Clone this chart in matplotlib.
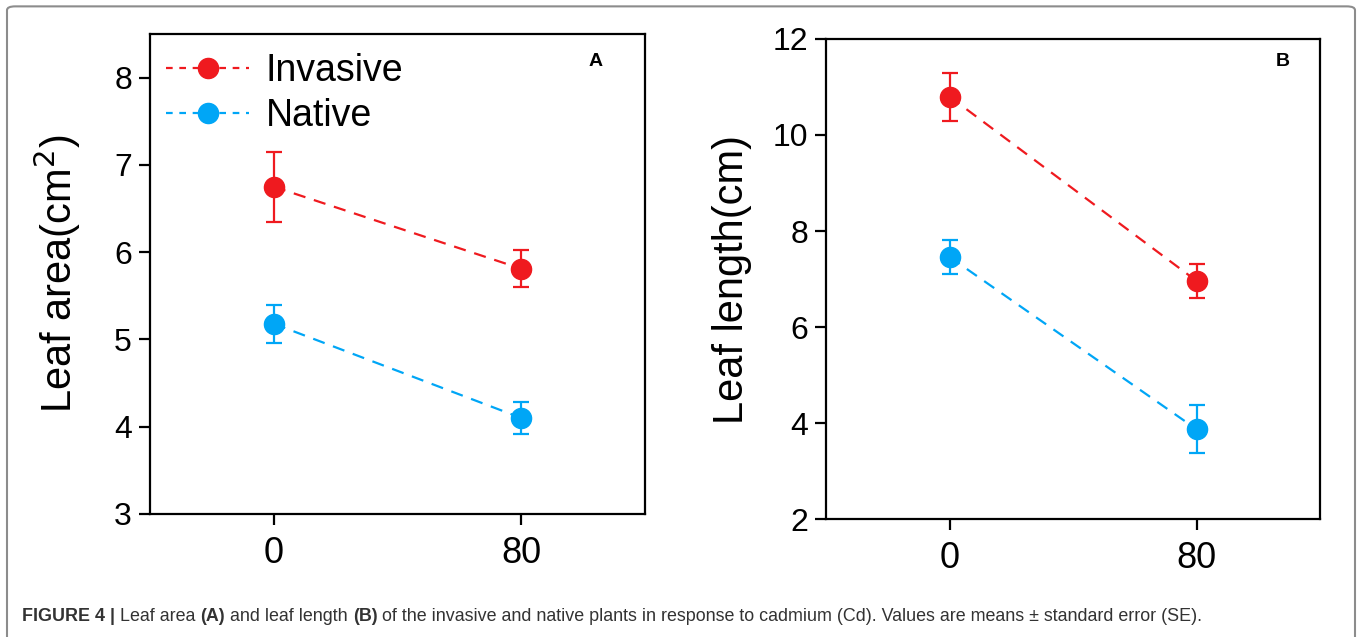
import numpy as np
import matplotlib.pyplot as plt
from matplotlib.patches import FancyBboxPatch
from matplotlib.lines import Line2D

# data
cd = [0, 80]
area_inv = [6.75, 5.81]
area_inv_se = [0.40, 0.21]
area_nat = [5.18, 4.10]
area_nat_se = [0.22, 0.18]

len_inv = [10.80, 6.96]
len_inv_se = [0.50, 0.35]
len_nat = [7.46, 3.87]
len_nat_se = [0.36, 0.50]

red = '#ef1a1f'
blue = '#00a6f6'
narrow = ['Liberation Sans Narrow', 'Liberation Sans', 'DejaVu Sans']

fig = plt.figure(figsize=(13.6, 6.37), dpi=100)
axA = fig.add_axes([0.1103, 0.1931, 0.364, 0.7535])
axB = fig.add_axes([0.6074, 0.1852, 0.3632, 0.7536])


def series(ax, y, e, col):
    ax.errorbar(cd, y, yerr=e, color=col, ls=(0, (5.5, 4)), lw=1.6,
                marker='o', ms=14.5, elinewidth=1.6, capsize=6, capthick=1.6,
                zorder=3)


def style(ax, ylim, yticks, label, lx):
    ax.set_xlim(-40, 120)
    ax.set_ylim(*ylim)
    ax.set_xticks(cd)
    ax.set_yticks(yticks)
    for s in ax.spines.values():
        s.set_linewidth(1.6)
    ax.tick_params(axis='both', direction='out', length=8, width=1.6)
    ax.tick_params(axis='y', pad=5)
    ax.tick_params(axis='x', pad=8)
    for t in ax.get_yticklabels():
        t.set_fontfamily(narrow)
        t.set_fontsize(23)
    for t in ax.get_xticklabels():
        t.set_fontfamily(narrow)
        t.set_fontsize(26)
    ax.set_ylabel(label, fontsize=30, family='Liberation Sans')
    ax.yaxis.set_label_coords(lx, 0.5)


series(axA, area_inv, area_inv_se, red)
series(axA, area_nat, area_nat_se, blue)
style(axA, (3, 8.5), [3, 4, 5, 6, 7, 8], 'Leaf area(cm$^2$)', -0.135)
axA.text((596 - 150) / 495, (514 - 61) / 480, 'A', transform=axA.transAxes,
         fontsize=14, fontweight='bold', family='Liberation Sans',
         ha='center', va='center')

series(axB, len_inv, len_inv_se, red)
series(axB, len_nat, len_nat_se, blue)
style(axB, (2, 12), [2, 4, 6, 8, 10, 12], 'Leaf length(cm)', -0.150)
axB.text((1283 - 826) / 494, (519 - 62) / 480, 'B', transform=axB.transAxes,
         fontsize=14, fontweight='bold', family='Liberation Sans',
         ha='center', va='center')

handles = [Line2D([], [], color=red, ls=(0, (3, 3)), lw=1.6, marker='o', ms=14.5),
           Line2D([], [], color=blue, ls=(0, (3, 3)), lw=1.6, marker='o', ms=14.5)]
axA.legend(handles, ['Invasive', 'Native'], loc='upper left',
           bbox_to_anchor=(-0.02, 1.015), frameon=False, handlelength=2.2,
           handletextpad=0.45, labelspacing=0.25, borderpad=0.2,
           prop={'family': 'Liberation Sans', 'size': 27})

# outer frame
frame = FancyBboxPatch((7 / 1360, -0.05), 1348 / 1360, 1.04,
                       boxstyle='round,pad=0,rounding_size=0.006',
                       transform=fig.transFigure, fill=False,
                       ec='#8c8c8c', lw=1.5, clip_on=False)
fig.patches.append(frame)

# caption, pieces with mixed weight
pieces = [('FIGURE 4 | ', 'bold'), ('Leaf area ', 'normal'), ('(A)', 'bold'),
          (' and leaf length ', 'normal'), ('(B)', 'bold'),
          (' of the invasive and native plants in response to cadmium (Cd). '
           'Values are means \u00b1 standard error (SE).', 'normal')]
fig.canvas.draw()
r = fig.canvas.get_renderer()
x = 22
for txt, w in pieces:
    t = fig.text(x / 1360, 1 - 621 / 637, txt, fontsize=12.9, fontweight=w,
                 color='#333333', family='Liberation Sans', va='baseline')
    x += t.get_window_extent(r).width

fig.savefig('out.png', dpi=100)
